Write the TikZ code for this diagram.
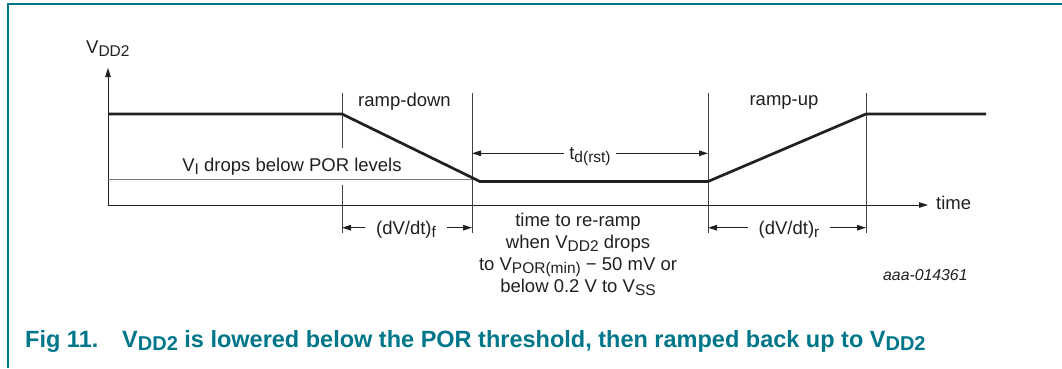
\documentclass[tikz,border=0pt]{standalone}
\usepackage{fontspec}
\setmainfont{Liberation Sans}
\usetikzlibrary{arrows.meta}
\definecolor{nxpteal}{RGB}{0,118,138}
\definecolor{ink}{RGB}{35,31,32}
\newcommand{\dsub}[1]{\raisebox{-0.32ex}{\fontsize{15.5}{15}\selectfont #1}}
\newcommand{\csub}[1]{\raisebox{-0.32ex}{\fontsize{20}{20}\selectfont #1}}
\begin{document}
\begin{tikzpicture}[x=1pt,y=-1pt,
  lbl/.style={font=\fontsize{18.5}{22}\selectfont, text=ink, inner sep=0pt},
  wave/.style={line width=2.7pt, draw=ink, line join=miter},
  guide/.style={line width=0.9pt, draw=ink!85},
  thresh/.style={line width=1pt, draw=ink!60},
  axisline/.style={line width=1pt, draw=ink, -{Triangle[length=9pt,width=5.5pt]}},
  dimline/.style={line width=1pt, draw=ink, {Triangle[length=9pt,width=5.5pt]}-{Triangle[length=9pt,width=5.5pt]}},
  gaplbl/.style={lbl, fill=white, inner xsep=5pt, inner ysep=1pt},
  widegap/.style={gaplbl, inner xsep=11pt},
  frame/.style={line width=1.6pt, draw=nxpteal},
  caption/.style={font=\fontsize{23.5}{28}\selectfont\bfseries, text=nxpteal, inner sep=0pt},
]
\useasboundingbox (0,0) rectangle (1062,368);
% frame
\coordinate (fa) at (8,368);
\coordinate (fb) at (8,4);
\coordinate (fc) at (1062,4);
\draw[frame] (fa) -- (fb) -- (fc);

% axes
\coordinate (O) at (108,205);
\coordinate (Ytop) at (108,68);
\coordinate (Xend) at (928,205);
\draw[axisline] (O) -- (Ytop);
\draw[axisline] (O) -- (Xend);
\node[lbl, anchor=base west] (ylab) at (86,53) {V\dsub{DD2}};
\node[lbl, anchor=base west] (xlab) at (936,209) {time};

% vertical guides
\coordinate (v1t) at (342,93); \coordinate (v1m) at (342,148);
\coordinate (v1n) at (342,185); \coordinate (v1b) at (342,233);
\coordinate (v2t) at (472,93); \coordinate (v2b) at (472,233);
\coordinate (v3t) at (708,93); \coordinate (v3b) at (708,233);
\coordinate (v4t) at (866,93); \coordinate (v4b) at (866,233);
\draw[guide] (v1t) -- (v1m);
\draw[guide] (v1n) -- (v1b);
\draw[guide] (v2t) -- (v2b);
\draw[guide] (v3t) -- (v3b);
\draw[guide] (v4t) -- (v4b);

% threshold
\coordinate (th0) at (108,179);
\coordinate (th1) at (472,179);
\draw[thresh] (th0) -- (th1);
\node[lbl, anchor=base] (thlab) at (292,171) {V\dsub{I} drops below POR levels};

% waveform
\coordinate (w0) at (108,114);
\coordinate (w1) at (342,114);
\coordinate (w2) at (480,181.5);
\coordinate (w3) at (708,181.5);
\coordinate (w4) at (866,114);
\coordinate (w5) at (986,114);
\draw[wave] (w0) -- (w1) -- (w2) -- (w3) -- (w4) -- (w5);

% phase labels
\node[lbl, anchor=base] (rd) at (404.5,106) {ramp-down};
\node[lbl, anchor=base] (ru) at (784,105) {ramp-up};

% dimension arrows
\coordinate (ta) at (472,153.3);
\coordinate (tb) at (708,153.3);
\draw[dimline] (ta) -- (tb);
\node[gaplbl, anchor=base] (tlab) at (590,159) {t\dsub{d(rst)}};

\coordinate (fa1) at (342,227.7);
\coordinate (fb1) at (472,227.7);
\draw[dimline] (fa1) -- (fb1);
\node[widegap, anchor=base] (flab) at (406,234) {(dV/dt)\dsub{f}};

\coordinate (ra1) at (708,227.7);
\coordinate (rb1) at (866,227.7);
\draw[dimline] (ra1) -- (rb1);
\node[widegap, anchor=base] (rlab) at (789,234) {(dV/dt)\dsub{r}};

% re-ramp note
\node[lbl, anchor=base] (rr1) at (578,226) {time to re-ramp};
\node[lbl, anchor=base] (rr2) at (578,248) {when V\dsub{DD2} drops};
\node[lbl, anchor=base] (rr3) at (578,270) {to V\dsub{POR(min)} − 50 mV or};
\node[lbl, anchor=base] (rr4) at (578,292) {below 0.2 V to V\dsub{SS}};

% figure id
\node[lbl, font=\fontsize{15.8}{18}\selectfont\itshape, anchor=base west] (fid) at (883,280) {aaa-014361};

% caption
\node[caption, anchor=base west] (cap1) at (25,347) {Fig 11.};
\node[caption, anchor=base west] (cap2) at (122,347) {V\csub{DD2} is lowered below the POR threshold, then ramped back up to V\csub{DD2}};
\end{tikzpicture}
\end{document}
